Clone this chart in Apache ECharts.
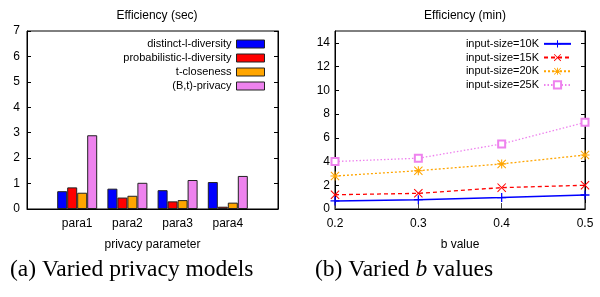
<!DOCTYPE html>
<html><head><meta charset="utf-8">
<script src="https://cdn.jsdelivr.net/npm/echarts@6/dist/echarts.min.js"></script>
<style>html,body{margin:0;padding:0;background:#fff}#c{width:600px;height:297px}</style>
</head><body><div id="c"></div>
<script>
// ---- data ----
const barCategories = ['', 'para1', 'para2', 'para3', 'para4', ''];
const barSeriesNames = ['distinct-l-diversity', 'probabilistic-l-diversity', 't-closeness', '(B,t)-privacy'];
const distinctL = [null, 0.70, 0.80, 0.74, 1.06, null];
const probabilisticL = [null, 0.85, 0.45, 0.30, 0.09, null];
const tCloseness = [null, 0.64, 0.52, 0.35, 0.25, null];
const btPrivacy = [null, 2.90, 1.03, 1.14, 1.30, null];

const bValues = ['0.2', '0.3', '0.4', '0.5'];
const lineSeriesNames = ['input-size=10K', 'input-size=15K', 'input-size=20K', 'input-size=25K'];
const size10K = [0.68, 0.78, 0.96, 1.18];
const size15K = [1.20, 1.32, 1.80, 2.00];
const size20K = [2.78, 3.23, 3.80, 4.55];
const size25K = [4.00, 4.28, 5.48, 7.30];

const leftYTicks = { min: 0, max: 7, interval: 1 };
const rightYTicks = { min: 0, max: 15, interval: 2 };

// ---- chart ----
const FONT = "'Liberation Sans Narrow', 'Arial Narrow', 'Liberation Sans', sans-serif";
const FS = 12;
const LFS = 11;
const colors = ['#0000ff', '#ff0000', '#ffa500', '#ee82ee'];
const chart = echarts.init(document.getElementById('c'), null, { renderer: 'canvas' });

const plusPath = 'path://M4.3,0H5.7V10H4.3Z M0,4.3H10V5.7H0Z';
const crossPath = 'path://M0.8,0 L5,4.2 L9.2,0 L10,0.8 L5.8,5 L10,9.2 L9.2,10 L5,5.8 L0.8,10 L0,9.2 L4.2,5 L0,0.8Z';
const starPath = 'path://M4.4,0H5.6V10H4.4Z M0,4.4H10V5.6H0Z M0.8,0 L5,4.2 L9.2,0 L10,0.8 L5.8,5 L10,9.2 L9.2,10 L5,5.8 L0.8,10 L0,9.2 L4.2,5 L0,0.8Z';

const barData = [distinctL, probabilisticL, tCloseness, btPrivacy];
const lineData = [size10K, size15K, size20K, size25K];
const lineSymbols = [plusPath, crossPath, starPath, 'emptyRect'];
const lineTypes = ['solid', [4, 3], [2, 2], [1.5, 2]];

const axisLine = { show: true, lineStyle: { color: '#000', width: 1 } };
const labelStyle = { color: '#000', fontSize: FS, fontFamily: FONT };

const series = [];
barData.forEach((d, i) => {
  series.push({
    type: 'bar', name: barSeriesNames[i], xAxisIndex: 0, yAxisIndex: 0,
    data: d, barWidth: 10, barGap: '0%',
    itemStyle: { color: colors[i], borderColor: '#222', borderWidth: 1 },
    emphasis: { disabled: true }, animation: false
  });
});
lineData.forEach((d, i) => {
  series.push({
    type: 'line', name: lineSeriesNames[i], xAxisIndex: 1, yAxisIndex: 2,
    data: d, symbol: lineSymbols[i], symbolSize: i === 3 ? 7 : 9, showAllSymbol: true,
    lineStyle: { color: colors[i], width: i === 0 ? 1.5 : 1.3, type: lineTypes[i] },
    itemStyle: { color: colors[i], borderColor: colors[i], borderWidth: i === 3 ? 1 : 0 },
    emphasis: { disabled: true }, animation: false
  });
});

chart.setOption({
  animation: false,
  textStyle: { fontFamily: FONT },
  title: [
    { text: 'Efficiency (sec)', left: 152, top: 5, textAlign: 'center',
      textStyle: { fontSize: 12, fontWeight: 'normal', color: '#000', fontFamily: FONT } },
    { text: 'Efficiency (min)', left: 460, top: 5, textAlign: 'center',
      textStyle: { fontSize: 12, fontWeight: 'normal', color: '#000', fontFamily: FONT } }
  ],
  legend: [
    { data: barSeriesNames.map(n => ({ name: n, icon: 'rect' })), orient: 'vertical', align: 'right', right: 335, top: 37,
      padding: 0, itemWidth: 28, itemHeight: 8, itemGap: 0, selectedMode: false,
      textStyle: { fontSize: LFS, lineHeight: 14, color: '#000', fontFamily: FONT },
      itemStyle: { borderColor: '#222', borderWidth: 1 } },
    { data: lineSeriesNames, orient: 'vertical', align: 'right', right: 28, top: 37,
      padding: 0, itemWidth: 27, itemHeight: 9, itemGap: 0, selectedMode: false,
      textStyle: { fontSize: LFS, lineHeight: 13.7, color: '#000', fontFamily: FONT } }
  ],
  grid: [
    { left: 27, right: 322, top: 31, bottom: 88, show: true, borderColor: '#000', borderWidth: 1, backgroundColor: 'transparent' },
    { left: 335, right: 15, top: 31, bottom: 88, show: true, borderColor: '#000', borderWidth: 1, backgroundColor: 'transparent' }
  ],
  xAxis: [
    { type: 'category', gridIndex: 0, data: barCategories, boundaryGap: false,
      axisLine, axisTick: { show: false }, splitLine: { show: false },
      axisLabel: { ...labelStyle, margin: 9, interval: 0 },
      name: 'privacy parameter', nameLocation: 'middle', nameGap: 30,
      nameTextStyle: { ...labelStyle } },
    { type: 'category', gridIndex: 1, data: bValues, boundaryGap: false,
      axisLine, axisTick: { show: true, inside: true, length: 6, lineStyle: { color: '#444' } },
      splitLine: { show: false },
      axisLabel: { ...labelStyle, margin: 9, interval: 0 },
      name: 'b value', nameLocation: 'middle', nameGap: 30,
      nameTextStyle: { ...labelStyle } }
  ],
  yAxis: [
    { type: 'value', gridIndex: 0, ...leftYTicks, axisLine,
      axisTick: { show: true, inside: true, length: 4, lineStyle: { color: '#000' } },
      splitLine: { show: false }, axisLabel: { ...labelStyle, margin: 7 } },
    { type: 'value', gridIndex: 0, ...leftYTicks, position: 'right', axisLine,
      axisTick: { show: true, inside: true, length: 4, lineStyle: { color: '#000' } },
      splitLine: { show: false }, axisLabel: { show: false } },
    { type: 'value', gridIndex: 1, ...rightYTicks, axisLine,
      axisTick: { show: true, inside: true, length: 4, lineStyle: { color: '#000' } },
      splitLine: { show: false },
      axisLabel: { ...labelStyle, margin: 5, showMaxLabel: false,
        formatter: v => (v % 2 === 0 ? String(v) : '') } },
    { type: 'value', gridIndex: 1, ...rightYTicks, position: 'right', axisLine,
      axisTick: { show: true, inside: true, length: 4, lineStyle: { color: '#000' } },
      splitLine: { show: false }, axisLabel: { show: false } }
  ],
  graphic: [
    { type: 'text', left: 10, top: 258,
      style: { text: '(a) Varied privacy models', font: "23.5px 'Liberation Serif', 'Times New Roman', serif", fill: '#000' } },
    { type: 'text', left: 315, top: 258,
      style: { text: '{n|(b) Varied }{i|b}{n| values}', fill: '#000',
        rich: { n: { font: "23.5px 'Liberation Serif', 'Times New Roman', serif" },
                i: { font: "italic 23.5px 'Liberation Serif', 'Times New Roman', serif" } } } }
  ],
  series
});
</script></body></html>
